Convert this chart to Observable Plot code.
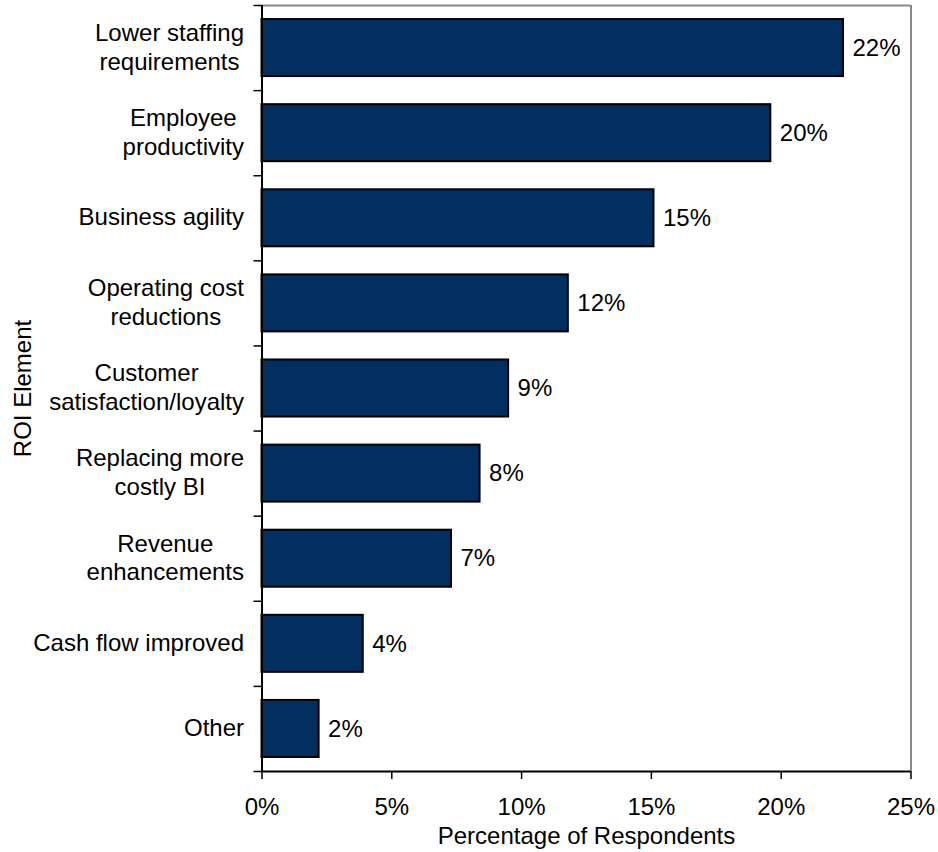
<!DOCTYPE html>
<html>
<head>
<meta charset="utf-8">
<script src="https://cdn.jsdelivr.net/npm/d3@7"></script>
<script src="https://cdn.jsdelivr.net/npm/@observablehq/plot@0.6"></script>
<style>
  html, body { margin: 0; padding: 0; background: #fff; }
  svg { display: block; }
</style>
</head>
<body>
<div id="chart"></div>
<script>
const categories = [
  "Lower staffing\nrequirements",
  "Employee\nproductivity",
  "Business agility",
  "Operating cost\nreductions",
  "Customer\nsatisfaction/loyalty",
  "Replacing more\ncostly BI",
  "Revenue\nenhancements",
  "Cash flow improved",
  "Other"
];
const values = [22.4, 19.6, 15.1, 11.8, 9.5, 8.4, 7.3, 3.9, 2.2];
const valueLabels = ["22%", "20%", "15%", "12%", "9%", "8%", "7%", "4%", "2%"];
const xTicks = [0, 5, 10, 15, 20, 25];
const xTitle = "Percentage of Respondents";
const yTitle = "ROI Element";

const data = categories.map((c, i) => ({i, category: c, value: values[i], label: valueLabels[i]}));
const n = categories.length;
const pad = 0.165;
const font = "'Liberation Sans', Arial, sans-serif";
const fs = 24;

const chart = Plot.plot({
  width: 938,
  height: 852,
  marginLeft: 261.5,
  marginRight: 27.5,
  marginTop: 5,
  marginBottom: 81,
  style: {fontFamily: font, fontSize: fs + "px", color: "black", background: "white"},
  x: {domain: [0, 25], axis: null},
  y: {domain: [n, 0], axis: null},
  marks: [
    Plot.rectX(data, {x1: 0, x2: "value", y1: d => d.i + pad, y2: d => d.i + 1 - pad,
      fill: "#022f60", stroke: "black", strokeWidth: 2}),
    Plot.ruleY([0], {stroke: "#888", strokeWidth: 2}),
    Plot.ruleX([25], {stroke: "#888", strokeWidth: 2}),
    Plot.ruleX([0], {stroke: "black", strokeWidth: 2}),
    Plot.ruleY([n], {stroke: "black", strokeWidth: 2}),
    Plot.axisY({ticks: d3.range(n + 1), tickSize: 8, tickFormat: () => "", stroke: "black", strokeWidth: 1.5}),
    Plot.axisX({ticks: xTicks, tickSize: 8, tickPadding: 18, tickFormat: d => d + "%",
      fontSize: fs, label: null, stroke: "black", strokeWidth: 1.5}),
    Plot.text(data, {x: 0, y: d => d.i + 0.5, text: "category", textAnchor: "end", dx: -18, dy: -2,
      lineHeight: 1.2, fontSize: fs, fill: "black", className: "cat-label"}),
    Plot.text(data, {x: "value", y: d => d.i + 0.5, text: "label", textAnchor: "start", dx: 9,
      fontSize: fs, fill: "black"}),
    Plot.text([xTitle], {frameAnchor: "bottom", text: d => d, dy: 72, lineAnchor: "bottom", fontSize: fs, fill: "black"}),
    Plot.text([yTitle], {frameAnchor: "left", text: d => d, dx: -239, rotate: -90, textAnchor: "middle",
      fontSize: fs, fill: "black"})
  ]
});

document.getElementById("chart").appendChild(chart);

// center multi-line category labels within their right-aligned block
d3.select(chart).selectAll("g.cat-label text").each(function() {
  const w = this.getBBox().width;
  this.setAttribute("text-anchor", "middle");
  const t = this.getAttribute("transform") || "";
  this.setAttribute("transform", t + ` translate(${-w / 2},0)`);
});
</script>
</body>
</html>
